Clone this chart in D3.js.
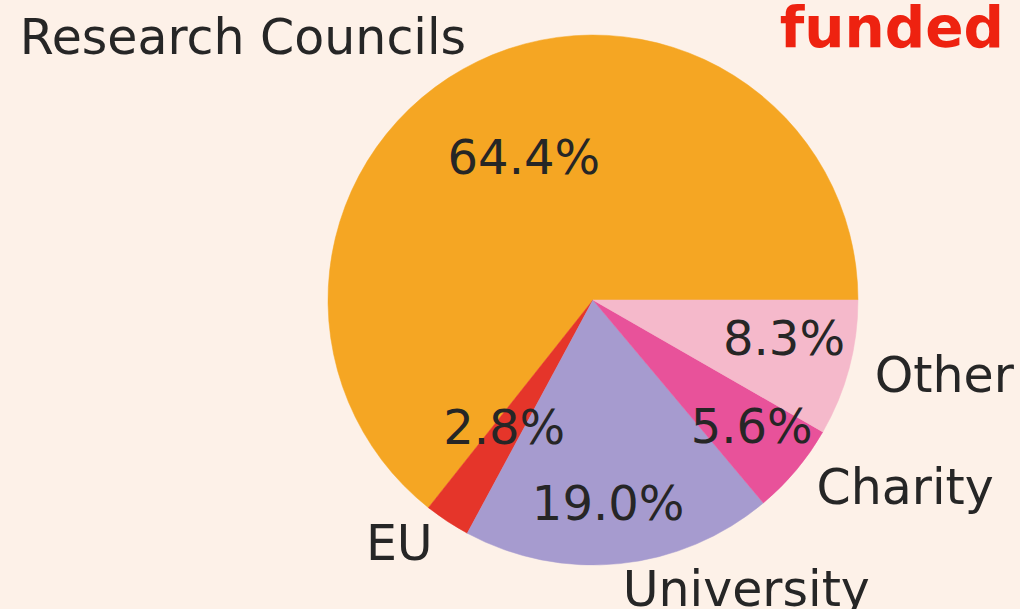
<!DOCTYPE html>
<html>
<head>
<meta charset="utf-8">
<title>Funding pie</title>
<script src="https://d3js.org/d3.v7.min.js"></script>
<style>
body { margin: 0; background: #fdf1e8; }
svg { display: block; }
.lbl, .pct { font-family: "DejaVu Sans", sans-serif; fill: #262626; }
</style>
</head>
<body>
<script>

// data
var categories = ["Research Councils", "EU", "University", "Charity", "Other"];
var shares = [64.4, 2.8, 19.0, 5.6, 8.3];
var colours = ["#f5a623", "#e5352a", "#a69bcf", "#e8529a", "#f5b9cb"];

// percent labels were nudged in the original; radius factor and turn (deg)
var pctRadius = [0.60, 0.585, 0.77, 0.765, 0.735];
var pctTurn = [0, -1.6, -1.6, 1.4, 3.7];

var W = 1020, H = 609;
var cx = 593, cy = 300, r = 265;

var svg = d3.select("body").append("svg")
    .attr("width", W)
    .attr("height", H);

svg.append("rect")
    .attr("width", W)
    .attr("height", H)
    .attr("fill", "#fdf1e8");

// matplotlib-style: start at 3 o'clock, go counter-clockwise
var pie = d3.pie()
    .sort(null)
    .startAngle(Math.PI / 2)
    .endAngle(Math.PI / 2 - 2 * Math.PI);

var arcs = pie(shares);

var arc = d3.arc().innerRadius(0).outerRadius(r);
var lblArc = d3.arc().innerRadius(r * 1.1).outerRadius(r * 1.1);

function pctPos(d, i) {
    // d3 angle: clockwise from 12 o'clock; turn is counter-clockwise
    var a = (d.startAngle + d.endAngle) / 2 - pctTurn[i] * Math.PI / 180;
    var rr = r * pctRadius[i];
    return [Math.sin(a) * rr, -Math.cos(a) * rr];
}

var g = svg.append("g")
    .attr("transform", "translate(" + cx + "," + cy + ")");

g.selectAll("path.slice")
    .data(arcs)
    .enter().append("path")
    .attr("class", "slice")
    .attr("d", arc)
    .attr("fill", function(d, i) { return colours[i]; })
    .attr("stroke", function(d, i) { return colours[i]; })
    .attr("stroke-width", 0.5);

g.selectAll("text.pct")
    .data(arcs)
    .enter().append("text")
    .attr("class", "pct")
    .attr("x", function(d, i) { return pctPos(d, i)[0]; })
    .attr("y", function(d, i) { return pctPos(d, i)[1]; })
    .attr("text-anchor", "middle")
    .attr("dominant-baseline", "central")
    .attr("font-size", 48)
    .text(function(d) { return d.data.toFixed(1) + "%"; });

g.selectAll("text.lbl")
    .data(arcs)
    .enter().append("text")
    .attr("class", "lbl")
    .attr("x", function(d) { return lblArc.centroid(d)[0]; })
    .attr("y", function(d) { return lblArc.centroid(d)[1]; })
    .attr("text-anchor", function(d) { return lblArc.centroid(d)[0] < 0 ? "end" : "start"; })
    .attr("dominant-baseline", "central")
    .attr("font-size", 49)
    .text(function(d, i) { return categories[i]; });

// title, cut by the right edge
svg.append("text")
    .attr("x", 1004)
    .attr("y", 47)
    .attr("text-anchor", "end")
    .attr("font-family", "DejaVu Sans, sans-serif")
    .attr("font-weight", "bold")
    .attr("font-size", 56.5)
    .attr("fill", "#ee2210")
    .text("funded");

</script>
</body>
</html>
